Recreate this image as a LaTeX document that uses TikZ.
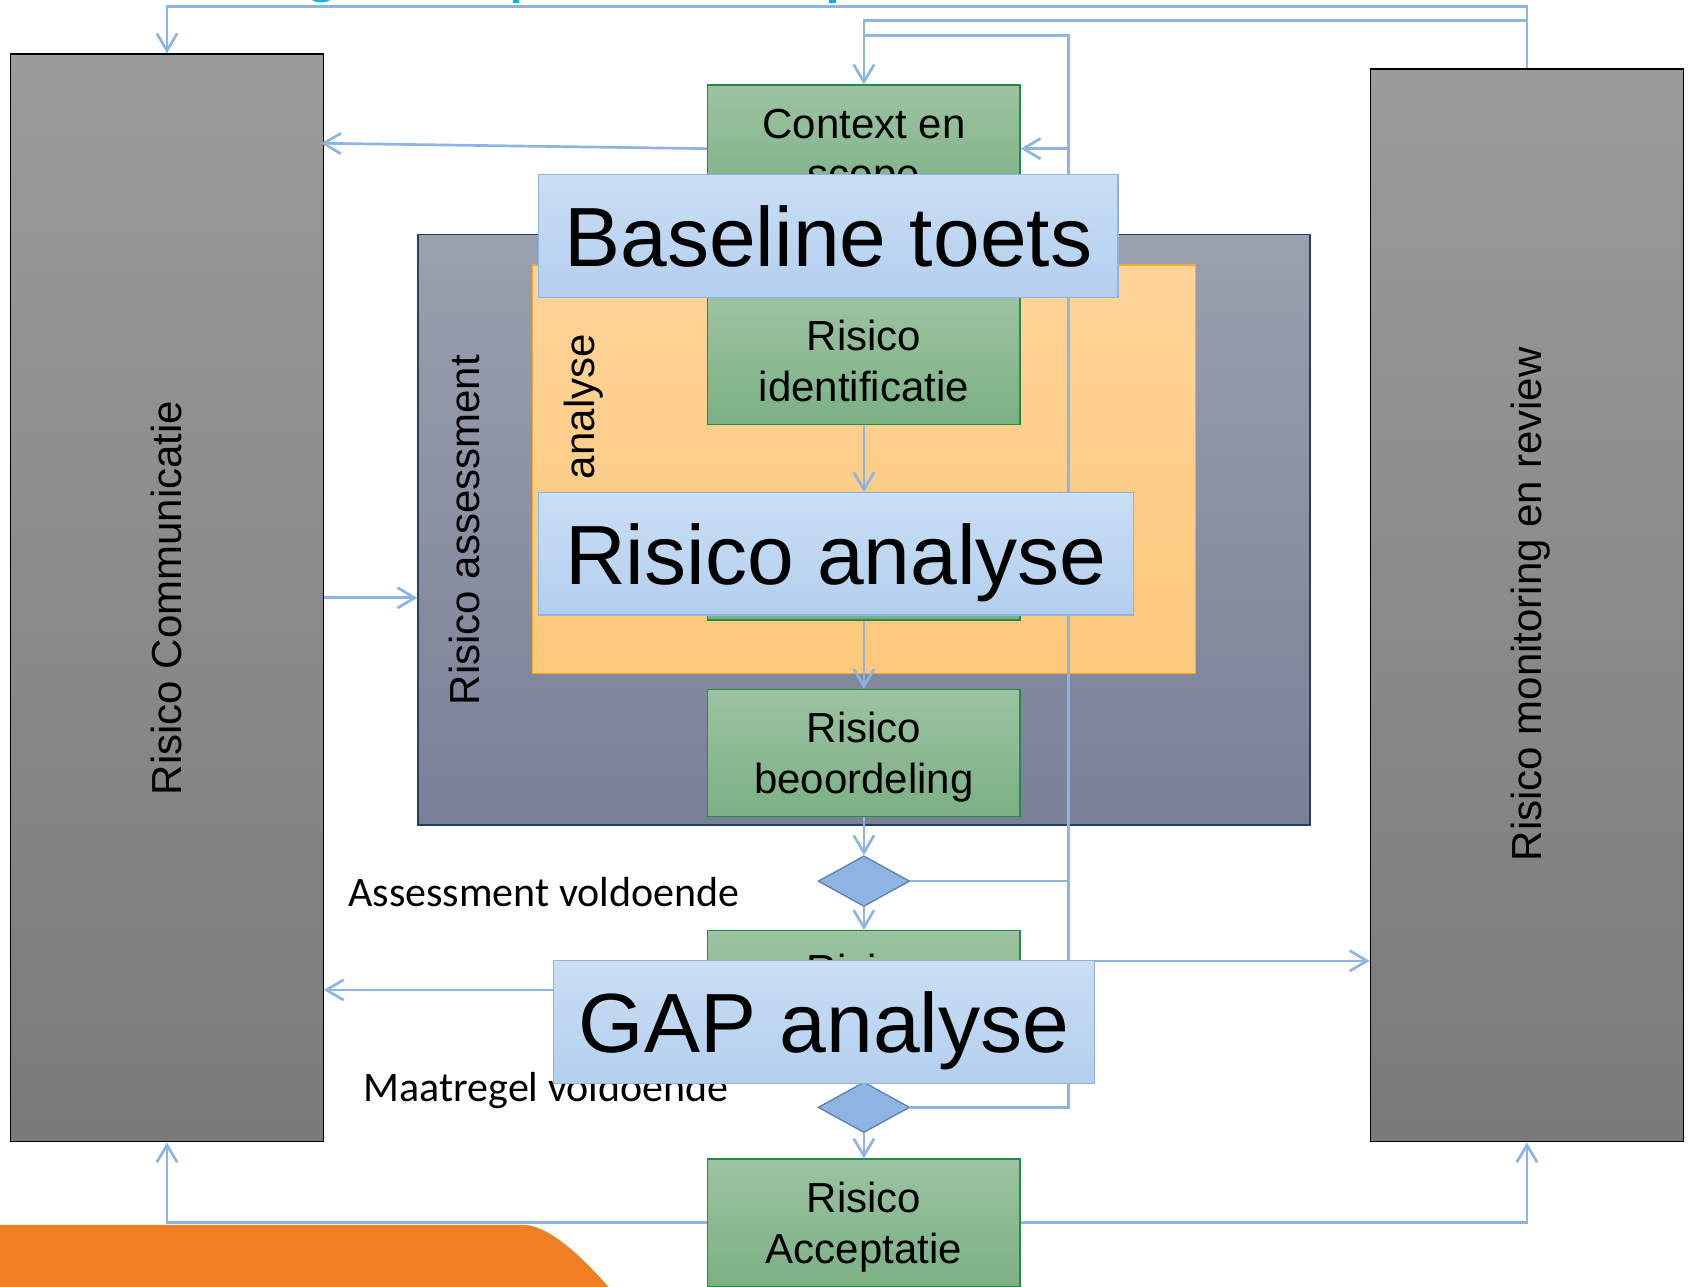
\documentclass[tikz,border=0pt]{standalone}
\usepackage{fontspec}
\setmainfont{Liberation Sans}
\newfontfamily\calfont{Carlito}
\usetikzlibrary{arrows.meta,shapes.geometric}
\definecolor{lb}{RGB}{141,180,226}
\definecolor{lbdark}{RGB}{93,128,173}
\definecolor{bxtop}{RGB}{202,222,244}
\definecolor{bxbot}{RGB}{179,207,238}
\definecolor{grtop}{RGB}{156,195,161}
\definecolor{grbot}{RGB}{123,176,132}
\definecolor{grline}{RGB}{36,138,70}
\definecolor{gytop}{RGB}{155,155,155}
\definecolor{gybot}{RGB}{122,122,122}
\definecolor{astop}{RGB}{155,160,174}
\definecolor{asbot}{RGB}{122,128,151}
\definecolor{asline}{RGB}{36,64,97}
\definecolor{ortop}{RGB}{255,212,153}
\definecolor{orbot}{RGB}{252,200,122}
\definecolor{orline}{RGB}{245,170,50}
\definecolor{orshape}{RGB}{239,127,34}
\definecolor{titleblue}{RGB}{0,176,240}
\begin{document}
\begin{tikzpicture}[x=1pt,y=-1pt,
  gbox/.style={draw=grline, line width=1.2pt, top color=grtop, bottom color=grbot,
    minimum width=290pt, minimum height=118pt, inner sep=0pt, align=center,
    text depth=0pt, font=\fontsize{39}{47}\selectfont},
  greybox/.style={draw=black, line width=1.2pt, top color=gytop, bottom color=gybot, inner sep=0pt},
  bluebox/.style={draw=lb, line width=1.2pt, top color=bxtop, bottom color=bxbot,
    inner sep=0pt, text depth=0pt, minimum height=114pt, font=\fontsize{78}{90}\selectfont},
  dia/.style={diamond, draw=lbdark, fill=lb, line width=1.2pt, minimum width=85pt,
    minimum height=47pt, inner sep=0pt},
  conn/.style={draw=lb, line width=2.5pt},
  arr/.style={conn, -{Straight Barb[length=16pt,width=19pt]}},
  rlab/.style={rotate=90, inner sep=0pt, font=\fontsize{39}{47}\selectfont},
  clab/.style={inner sep=0pt, font=\calfont\fontsize{39}{47}\selectfont}
]
\useasboundingbox (0,0) rectangle (1568,1194);
\clip (0,0) rectangle (1568,1194);

% orange corner shape and cut-off title fragments
\fill[orshape] (0,1137) -- (485,1137) .. controls (505,1137) and (532,1157) .. (566,1196) -- (0,1196) -- cycle;
\fill[titleblue] (288,-2) .. controls (290,3.5) and (306,3.5) .. (308,-2) -- cycle;
\fill[titleblue] (476,-1) rectangle (482,2.5);
\fill[titleblue] (770,-1) rectangle (776,2.5);

% big boxes
\node[greybox, minimum width=290pt, minimum height=1010pt] (rc) at (155,555) {};
\node[greybox, minimum width=291pt, minimum height=996pt] (rm) at (1417.5,562) {};
\node[draw=asline, line width=1.2pt, top color=astop, bottom color=asbot,
  minimum width=828pt, minimum height=548pt, inner sep=0pt] (ra) at (802,492) {};
\node[draw=orline, line width=1pt, top color=ortop, bottom color=orbot,
  minimum width=616pt, minimum height=379pt, inner sep=0pt] (ob) at (802,435.5) {};

% rotated labels
\node[rlab] (lrc) at (155,555) {Risico Communicatie};
\node[rlab] (lrm) at (1421,561) {Risico monitoring en review};
\node[rlab] (lra) at (431,492) {Risico assessment};
\node[rlab, anchor=east] (lan) at (542,310) {Risico analyse};

% process boxes
\node[gbox] (ctx) at (802,138) {Context en\\scope};
\node[gbox] (rid) at (802,335) {Risico\\identificatie};
\node[gbox] (ran) at (802,516.5) {Risico\\analyse};
\node[gbox] (rbe) at (802,699) {Risico\\beoordeling};
\node[gbox] (rbh) at (802,923) {Risico\\behandeling};
\node[gbox] (rac) at (802,1135) {Risico\\Acceptatie};
\node[dia] (d1) at (802,818) {};
\node[dia] (d2) at (802,1028) {};

% helper coordinates
\coordinate (ytop) at (0,6);
\coordinate (y2) at (0,19);
\coordinate (y3) at (0,33);
\coordinate (xv) at (992,0);
\coordinate (cl) at (298,133);
\coordinate (g1) at (0,919);
\coordinate (g2) at (0,892);

% connectors
\draw[arr] (rm.north) -- (rm.north |- ytop) -- (rc.north |- ytop) -- (rc.north);
\draw[arr] (rm.north |- y2) -- (ctx.north |- y2) -- (ctx.north);
\draw[conn] (d2.east) -- (d2.east -| xv) -- (xv |- y3) -- (ctx.north |- y3);
\draw[conn] (d1.east) -- (d1.east -| xv);
\draw[arr] (xv |- ctx.east) -- (ctx.east);
\draw[arr] (ctx.west) -- (cl);
\draw[arr] (rc.east) -- (ra.west |- rc.east);
\draw[arr] (rid) -- (ran);
\draw[arr] (ran) -- (rbe);
\draw[arr] (rbe) -- (d1);
\draw[arr] (d1) -- (rbh);
\draw[arr] (rbh) -- (d2);
\draw[arr] (d2) -- (rac);
\draw[arr] (rbh.west |- g1) -- (rc.east |- g1);
\draw[arr] (rbh.east |- g2) -- (rm.west |- g2);
\draw[arr] (rac.west) -| (rc.south);
\draw[arr] (rac.east) -| (rm.south);

% decision labels
\node[clab] (lav) at (505,828) {Assessment voldoende};
\node[clab] (lmv) at (507,1012) {Maatregel voldoende};

% overlay boxes
\node[bluebox, minimum width=538pt] (bt) at (769,219) {Baseline toets};
\node[bluebox, minimum width=552pt] (bra) at (776,514) {Risico analyse};
\node[bluebox, minimum width=502pt] (gap) at (765,949) {GAP analyse};
\end{tikzpicture}
\end{document}
